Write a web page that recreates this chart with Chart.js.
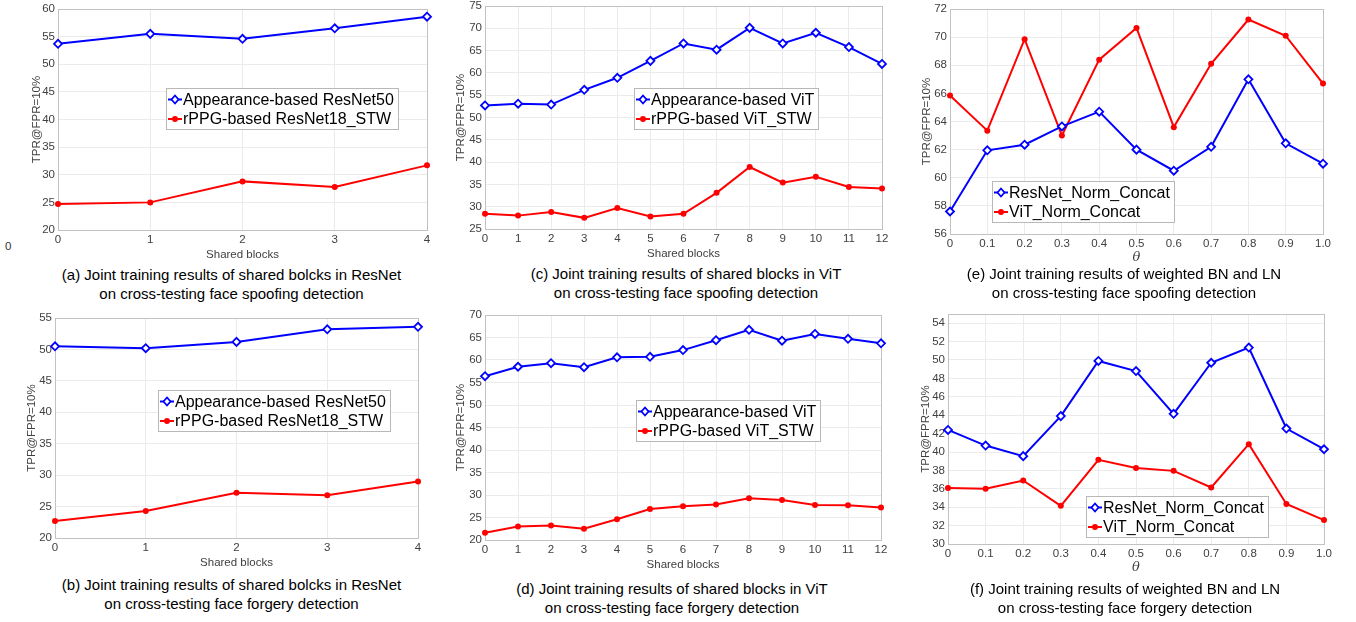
<!DOCTYPE html>
<html><head><meta charset="utf-8">
<script src="https://cdn.jsdelivr.net/npm/chart.js@4.4.0/dist/chart.umd.min.js"></script>
<style>
html,body{margin:0;padding:0;background:#fff;}
body{width:1356px;height:622px;position:relative;overflow:hidden;font-family:"Liberation Sans",Arial,sans-serif;}
.pan{position:absolute;}
.cap{position:absolute;font-size:15px;line-height:19px;color:#000;text-align:center;white-space:nowrap;transform:translateX(-50%);}
.stray{position:absolute;font-size:11.5px;color:#333;}
</style></head><body>
<div class="stray" style="left:5px;top:240px;">0</div>
<script>
// ---- categories / tick labels ----
const blocksResNet = ['0','1','2','3','4'];
const blocksViT = ['0','1','2','3','4','5','6','7','8','9','10','11','12'];
const thetaLabels = ['0','0.1','0.2','0.3','0.4','0.5','0.6','0.7','0.8','0.9','1.0'];

// ---- series names ----
const namesResNet = ['Appearance-based ResNet50','rPPG-based ResNet18_STW'];
const namesViT = ['Appearance-based ViT','rPPG-based ViT_STW'];
const namesNorm = ['ResNet_Norm_Concat','ViT_Norm_Concat'];

// ---- values ----
const aAppearance = [53.7,55.5,54.6,56.5,58.6];
const aRppg       = [24.7,25.0,28.8,27.8,31.7];
const bAppearance = [50.5,50.2,51.2,53.2,53.6];
const bRppg       = [22.7,24.3,27.2,26.8,29.0];
const cAppearance = [52.7,53.1,52.9,56.2,58.9,62.7,66.6,65.2,70.1,66.6,69.0,65.8,62.0];
const cRppg       = [28.4,28.0,28.8,27.5,29.7,27.8,28.4,33.1,38.9,35.4,36.7,34.4,34.1];
const dAppearance = [56.4,58.5,59.3,58.4,60.6,60.7,62.2,64.4,66.7,64.3,65.8,64.7,63.7];
const dRppg       = [21.6,23.0,23.2,22.5,24.6,26.9,27.5,27.9,29.3,28.9,27.8,27.7,27.2];
const eResNet     = [57.6,61.95,62.35,63.65,64.7,62.0,60.5,62.2,67.0,62.45,61.0];
const eViT        = [65.85,63.35,69.85,63.0,68.4,70.65,63.6,68.1,71.25,70.1,66.7];
const fResNet     = [42.4,40.7,39.55,43.9,49.9,48.8,44.15,49.7,51.35,42.55,40.3];
const fViT        = [36.1,36.0,36.9,34.15,39.15,38.25,37.95,36.15,40.85,34.35,32.6];

// ---- axis ranges ----
const yRangeA = [20,60,5], yRangeB = [20,55,5], yRangeC = [25,75,5];
const yRangeD = [20,70,5], yRangeE = [56,72,2], yRangeF = [30,55,2];

// ---- captions ----
const captions = {
  a:['(a) Joint training results of shared bolcks in ResNet','on cross-testing face spoofing detection'],
  b:['(b) Joint training results of shared bolcks in ResNet','on cross-testing face forgery detection'],
  c:['(c) Joint training results of shared blocks in ViT','on cross-testing face spoofing detection'],
  d:['(d) Joint training results of shared blocks in ViT','on cross-testing face forgery detection'],
  e:['(e) Joint training results of weighted BN and LN','on cross-testing face spoofing detection'],
  f:['(f) Joint training results of weighted BN and LN','on cross-testing face forgery detection']
};

const FONT = '"Liberation Sans", Arial, sans-serif';
const TICKC = '#404040';

const framePlugin = {
  id:'frame',
  beforeDatasetsDraw(chart){
    const {ctx, chartArea:ca} = chart;
    ctx.save();
    ctx.strokeStyle = '#c2c2c2'; ctx.lineWidth = 1;
    ctx.strokeRect(Math.round(ca.left)+0.5, Math.round(ca.top)+0.5, Math.round(ca.right-ca.left), Math.round(ca.bottom-ca.top));
    ctx.restore();
  }
};

function drawMarker(ctx, style, x, y, color){
  ctx.save();
  if(style==='rectRot'){
    ctx.beginPath();
    ctx.moveTo(x, y-4); ctx.lineTo(x+3.5, y); ctx.lineTo(x, y+4); ctx.lineTo(x-3.5, y); ctx.closePath();
    ctx.fillStyle='#fff'; ctx.fill();
    ctx.strokeStyle=color; ctx.lineWidth=1.8; ctx.stroke();
  } else {
    ctx.beginPath(); ctx.arc(x,y,3,0,Math.PI*2); ctx.fillStyle=color; ctx.fill();
  }
  ctx.restore();
}

const boxLegendPlugin = {
  id:'boxLegend',
  afterDraw(chart, args, opts){
    const {ctx, chartArea:ca} = chart;
    const x0 = Math.round(ca.left + opts.dx), y0 = Math.round(ca.top + opts.dy);
    ctx.save();
    ctx.font = '16px ' + FONT;
    const ds = chart.data.datasets;
    const tw = Math.max(...ds.map(d=>ctx.measureText(d.label).width));
    const w = Math.round(17 + tw + 4), h = 41;
    ctx.fillStyle='#fff'; ctx.fillRect(x0,y0,w,h);
    ctx.strokeStyle='#b8b8b8'; ctx.lineWidth=1; ctx.strokeRect(x0+0.5,y0+0.5,w,h);
    ds.forEach((d,i)=>{
      const yy = y0 + (i===0 ? 11.5 : 31);
      ctx.strokeStyle=d.borderColor; ctx.lineWidth=2;
      ctx.beginPath(); ctx.moveTo(x0+2,yy); ctx.lineTo(x0+16,yy); ctx.stroke();
      drawMarker(ctx, d.pointStyle, x0+9, yy, d.borderColor);
      ctx.fillStyle='#000'; ctx.textBaseline='middle'; ctx.textAlign='left';
      ctx.fillText(d.label, x0+17, yy+1);
    });
    ctx.restore();
  }
};

function makePanel(cfg){
  const yw = cfg.L - cfg.yt + 7;
  const xh = cfg.xh || 32;
  const padTop = 10, padRight = 14;
  const left = cfg.L - yw, top = cfg.T - padTop;
  const width = (cfg.R - cfg.L) + yw + padRight;
  const height = (cfg.B - cfg.T) + padTop + xh;
  const div = document.createElement('div');
  div.className='pan';
  div.style.left = left+'px'; div.style.top = top+'px';
  const cv = document.createElement('canvas');
  cv.width = width; cv.height = height;
  cv.style.width = width+'px'; cv.style.height = height+'px';
  div.appendChild(cv); document.body.appendChild(div);

  const [ymin,ymax,ystep] = cfg.yr;
  new Chart(cv, {
    type:'line',
    data:{
      labels: cfg.labels,
      datasets:[
        {label:cfg.names[0], data:cfg.s1, borderColor:'#0000ff', backgroundColor:'#0000ff', borderWidth:2,
         pointStyle:'rectRot', pointRadius:4, pointBorderWidth:1.8, pointBackgroundColor:'#ffffff',
         pointBorderColor:'#0000ff', tension:0, clip:false},
        {label:cfg.names[1], data:cfg.s2, borderColor:'#ff0000', backgroundColor:'#ff0000', borderWidth:2,
         pointStyle:'circle', pointRadius:3, pointBorderWidth:0, pointBackgroundColor:'#ff0000',
         tension:0, clip:false}
      ]
    },
    options:{
      responsive:false, animation:false, devicePixelRatio:1,
      layout:{padding:{top:padTop, right:padRight, left:0, bottom:0}},
      plugins:{legend:{display:false}, tooltip:{enabled:false}, boxLegend:{dx:cfg.lg[0], dy:cfg.lg[1]}},
      scales:{
        x:{type:'category', offset:false,
           grid:{color:'#ebebeb', drawTicks:false}, border:{display:false},
           ticks:{color:TICKC, font:{size:11.5, family:FONT}, padding:3, maxRotation:0, autoSkip:false},
           title:{display:true, text:cfg.xTitle, color:TICKC, padding:0,
                  font: cfg.theta ? {size:13, family:'"DejaVu Serif", "Liberation Serif", serif', style:'italic'} : {size:11.5, family:FONT}},
           afterFit(s){ s.height = xh; }},
        y:{min:ymin, max:ymax,
           grid:{color:'#ebebeb', drawTicks:false}, border:{display:false},
           ticks:{stepSize:ystep, includeBounds:false, color:TICKC, font:{size:11.5, family:FONT}, padding:3,
                  callback:(v)=> ((v - ymin) % ystep === 0 ? String(v) : null)},
           title:{display:true, text:'TPR@FPR=10%', color:TICKC, padding:0, font:{size:11.5, family:FONT}},
           afterFit(s){ s.width = yw; }}
      }
    },
    plugins:[framePlugin, boxLegendPlugin]
  });

  const cap = document.createElement('div');
  cap.className='cap';
  cap.style.left = cfg.cap[0]+'px'; cap.style.top = (cfg.cap[1]-9.5)+'px';
  cap.innerHTML = captions[cfg.id][0] + '<br>' + captions[cfg.id][1];
  document.body.appendChild(cap);
}

const panels = [
  {id:'a', L:58, T:9, R:427, B:230, yt:37, labels:blocksResNet, names:namesResNet, s1:aAppearance, s2:aRppg, yr:yRangeA, xTitle:'Shared blocks', lg:[108,79], cap:[231.5,274]},
  {id:'b', L:55, T:318, R:418, B:538, yt:32, labels:blocksResNet, names:namesResNet, s1:bAppearance, s2:bRppg, yr:yRangeB, xTitle:'Shared blocks', lg:[103,72], cap:[231.5,584]},
  {id:'c', L:485, T:6, R:882, B:229, yt:461, labels:blocksViT, names:namesViT, s1:cAppearance, s2:cRppg, yr:yRangeC, xTitle:'Shared blocks', lg:[149,82], cap:[686,273]},
  {id:'d', L:485, T:315, R:881, B:540, yt:461, labels:blocksViT, names:namesViT, s1:dAppearance, s2:dRppg, yr:yRangeD, xTitle:'Shared blocks', lg:[151,85], cap:[672,588]},
  {id:'e', L:950, T:9, R:1323, B:234, yt:927, labels:thetaLabels, names:namesNorm, s1:eResNet, s2:eViT, yr:yRangeE, xTitle:'θ', theta:true, xh:31, lg:[42,172], cap:[1124,273]},
  {id:'f', L:948, T:314, R:1324, B:544, yt:926, labels:thetaLabels, names:namesNorm, s1:fResNet, s2:fViT, yr:yRangeF, xTitle:'θ', theta:true, xh:31, lg:[138,182], cap:[1125,588]}
];
panels.forEach(makePanel);
</script>
</body></html>
